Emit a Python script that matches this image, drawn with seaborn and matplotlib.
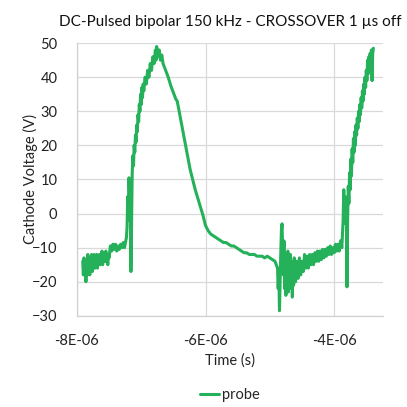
import numpy as np
import pandas as pd
import matplotlib
matplotlib.use("Agg")
import matplotlib.pyplot as plt
import seaborn as sns

# values (time in microseconds, voltage in V)
time_us = [
    -7.91, -7.90, -7.89, -7.88, -7.87, -7.86, -7.85, -7.84, -7.83, -7.82,
    -7.81, -7.80, -7.79, -7.78, -7.77, -7.76, -7.75, -7.74, -7.73, -7.72,
    -7.71, -7.70, -7.69, -7.68, -7.67, -7.66, -7.65, -7.64, -7.63, -7.62,
    -7.61, -7.60, -7.59, -7.58, -7.57, -7.56, -7.55, -7.54, -7.53, -7.52,
    -7.51, -7.50, -7.48, -7.46, -7.44, -7.42, -7.40, -7.38, -7.36, -7.34,
    -7.32, -7.30, -7.28, -7.26, -7.24, -7.23, -7.22, -7.21, -7.20, -7.19,
    -7.18, -7.17, -7.16, -7.15, -7.14, -7.13, -7.12, -7.11, -7.10, -7.09,
    -7.08, -7.07, -7.06, -7.05, -7.04, -7.03, -7.02, -7.01, -7.00, -6.99,
    -6.98, -6.97, -6.96, -6.94, -6.92, -6.90, -6.88, -6.86, -6.84, -6.82,
    -6.80, -6.78, -6.77, -6.76, -6.74, -6.72, -6.70, -6.68, -6.66, -6.62,
    -6.58, -6.54, -6.50, -6.46, -6.44, -6.40, -6.36, -6.32, -6.28, -6.24,
    -6.20, -6.16, -6.12, -6.08, -6.04, -6.00, -5.96, -5.92, -5.88, -5.84,
    -5.80, -5.76, -5.72, -5.68, -5.64, -5.60, -5.56, -5.52, -5.48, -5.44,
    -5.40, -5.36, -5.32, -5.28, -5.24, -5.20, -5.16, -5.12, -5.08, -5.04,
    -5.00, -4.96, -4.92, -4.90, -4.88, -4.87, -4.86, -4.85, -4.84, -4.83,
    -4.82, -4.81, -4.80, -4.79, -4.78, -4.77, -4.76, -4.75, -4.74, -4.73,
    -4.72, -4.71, -4.70, -4.69, -4.68, -4.67, -4.66, -4.65, -4.64, -4.63,
    -4.62, -4.60, -4.58, -4.56, -4.54, -4.52, -4.50, -4.48, -4.46, -4.44,
    -4.42, -4.40, -4.38, -4.36, -4.34, -4.32, -4.30, -4.28, -4.26, -4.24,
    -4.22, -4.20, -4.18, -4.16, -4.14, -4.12, -4.10, -4.08, -4.06, -4.04,
    -4.02, -4.00, -3.98, -3.96, -3.94, -3.92, -3.90, -3.88, -3.87, -3.86,
    -3.85, -3.84, -3.83, -3.82, -3.81, -3.80, -3.79, -3.78, -3.77, -3.76,
    -3.75, -3.74, -3.73, -3.72, -3.71, -3.70, -3.69, -3.68, -3.67, -3.66,
    -3.65, -3.64, -3.63, -3.62, -3.61, -3.60, -3.59, -3.58, -3.57, -3.56,
    -3.55, -3.54, -3.53, -3.52, -3.51, -3.50, -3.49, -3.48, -3.47, -3.46,
    -3.45, -3.44, -3.43, -3.42, -3.41, -3.40, -3.39,
]
voltage = [
    -14, -18, -13, -17, -15, -20, -14, -18, -12, -17,
    -14, -18, -13, -16, -12, -17, -14, -16, -12, -16,
    -13, -15, -12, -16, -13, -15, -12, -15, -12, -14,
    -11, -15, -12, -14, -12, -14, -11, -14, -12, -15,
    -12, -13, -9.5, -11, -9, -10.5, -9, -11, -9.5, -10.5,
    -9, -10, -8.5, -10, -8, -7, -4, 5, -2, 10.5,
    3, 8, -17, -3, 12, 17, 14, 20, 18, 23,
    21, 26, 24, 29, 27, 32, 30, 35, 32, 37,
    34, 38, 36, 40, 38, 42, 40, 44, 42, 46,
    44, 48, 45, 49, 46, 48, 45, 46.5, 44, 42,
    40, 37.5, 35.5, 33.5, 33, 29, 25, 21, 17, 13,
    10, 7, 4.5, 2, -0.5, -3.5, -5, -6, -6.5, -7,
    -7.5, -8, -8.5, -8.5, -9, -9.5, -9.5, -10, -10.5, -11,
    -11.5, -11.5, -12, -12, -12, -12.5, -12.5, -12.5, -13, -12.5,
    -13, -13.5, -14, -15, -16, -22, -17, -28.5, -20, -12,
    -5, -3, -10, -18, -8, -22, -12, -24, -14, -20,
    -11, -23, -13, -19, -12, -22, -14, -24.5, -15, -21,
    -13, -20, -14, -19, -13, -18, -14, -17, -12, -16,
    -12.5, -16, -12, -15, -12, -15, -11.5, -14, -11, -14,
    -11, -13.5, -10.5, -13, -10.5, -12.5, -10, -12, -9.5, -12,
    -10, -11.5, -9, -11, -9, -11, -8, -10, -6, -2,
    7, 0, 5, -3, 2, -21.5, -2, 8, 3, 12,
    7, 16, 11, 19, 15, 22, 18, 24, 20, 26,
    23, 28, 25, 30, 27, 32, 29, 34, 31, 36,
    33, 38, 35, 40, 37, 42, 39, 45, 41, 46,
    42, 47, 44, 48, 39, 47, 48.5,
]

x_ticks_us = [-8, -6, -4]
x_tick_labels = ["-8E-06", "-6E-06", "-4E-06"]
y_ticks = [-30, -20, -10, 0, 10, 20, 30, 40, 50]

df = pd.DataFrame({"Time": np.array(time_us) * 1e-6, "Voltage": voltage})

sns.set_theme(style="whitegrid")
plt.rcParams["font.family"] = ["Lato", "DejaVu Sans"]

fig = plt.figure(figsize=(4.07, 4.07), dpi=100)
ax = fig.add_axes([0.189, 0.224, 0.752, 0.670])

sns.lineplot(data=df, x="Time", y="Voltage", ax=ax, color="#25B05A",
             linewidth=2.2, estimator=None, sort=False, label="probe")

ax.set_xlim(-8e-6, -3.24e-6)
ax.set_ylim(-30, 50)
ax.set_xticks([t * 1e-6 for t in x_ticks_us])
ax.set_xticklabels(x_tick_labels)
ax.set_yticks(y_ticks)
ax.tick_params(axis="both", labelsize=10.5, colors="#222222", length=0)
ax.tick_params(axis="x", pad=13)
ax.tick_params(axis="y", pad=14)

ax.grid(True, color="#D9D9D9", linewidth=0.9)
for side in ["top", "right"]:
    ax.spines[side].set_visible(False)
for side in ["left", "bottom"]:
    ax.spines[side].set_color("#D0D0D0")
    ax.spines[side].set_linewidth(0.9)

ax.set_xlabel("Time (s)", fontsize=10.5, color="#222222", labelpad=4)
ax.set_ylabel("Cathode Voltage (V)", fontsize=10.5, color="#222222")
ax.yaxis.set_label_coords(-0.128, 0.5)
ax.set_title("DC-Pulsed bipolar 150 kHz - CROSSOVER 1 \u00b5s off",
             fontsize=11, color="#111111", pad=12)

ax.get_legend().remove()
handles, labels = ax.get_legend_handles_labels()
fig.legend(handles, labels, loc="center", bbox_to_anchor=(0.565, 0.03),
           frameon=False, fontsize=10.5, handlelength=1.3, handletextpad=0.2)

fig.savefig("out.png", dpi=100)
plt.close(fig)
